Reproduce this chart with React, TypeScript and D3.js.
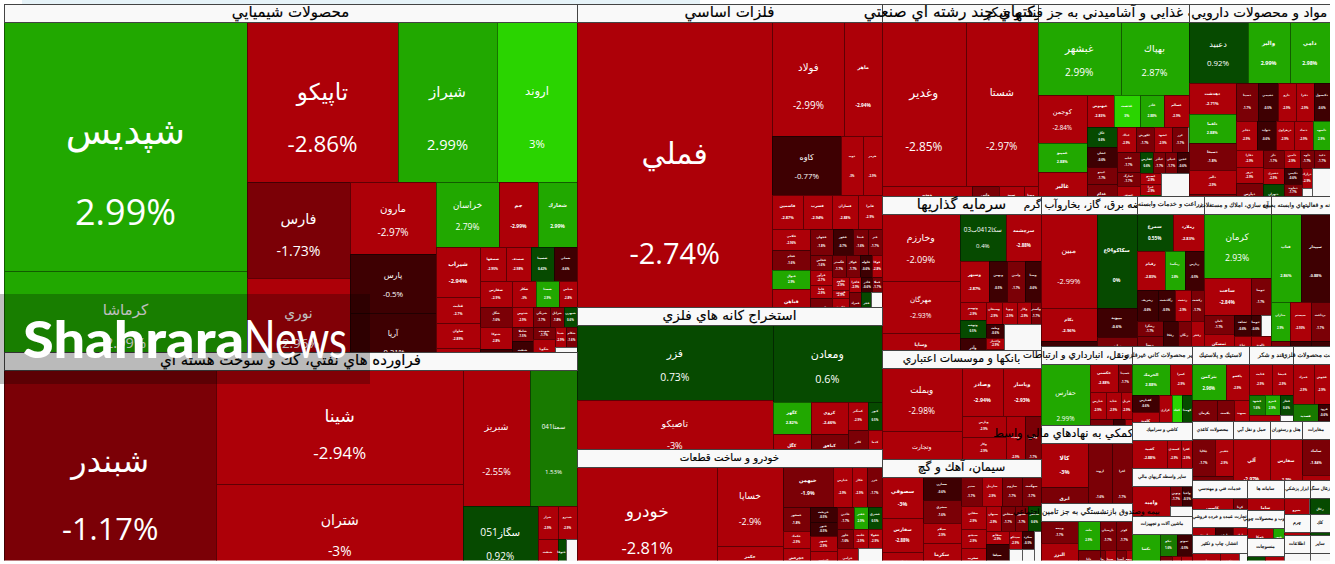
import React, { useMemo } from "react";
import * as d3 from "d3";

type N = { w: number; name?: string; change?: number; blank?: boolean; title?: string; dir?: "h" | "v"; kids?: N[]; value?: number };
const c = (w: number, name: string, change: number): N => ({ w, name, change });
const gap = (w: number): N => ({ w, blank: true });
const cols = (w: number, ...kids: N[]): N => ({ w, dir: "h", kids });
const rows = (w: number, ...kids: N[]): N => ({ w, dir: "v", kids });
const sector = (title: string, w: number, dir: "h" | "v", ...kids: N[]): N => ({ w, title, dir, kids });

const chemicals = sector("محصولات شيميايي", 348, "h",
  rows(243, c(249, "شپديس", 2.99), c(99, "كرماشا", 2.99)),
  rows(330,
    cols(160, c(151, "تاپيكو", -2.86), c(99, "شيراز", 2.99), c(80, "اروند", 3)),
    cols(188,
      rows(103, c(96, "فارس", -1.73), c(92, "نوري", -2.96)),
      rows(86, c(72, "مارون", -2.97), c(59, "پارس", -0.5), c(57, "آريا", -0.21)),
      rows(141,
        cols(65, c(63, "خراسان", 2.79), c(39, "جم", -2.99), c(39, "شخارك", 2.99)),
        cols(123,
          rows(44, c(50, "شيراب", -2.94), c(26, "قثابت", -2.7), c(25, "شاوان", -2.89), c(22, "شفن", -2.6)),
          rows(97,
            cols(34, c(25.5, "شصفها", -2.95), c(25, "شصدف", -2.98), c(23.5, "شسينا", 0.42), c(23, "شملي", -0.6)),
            cols(26, c(32, "شفارس", -2.9), c(24, "شكلر", -3), c(23, "شستا", 2.9), c(18, "شپاس", -2.8)),
            cols(63,
              rows(32, c(20, "شگل", -1.6), c(22, "شتوكا", -2.8), c(21, "شلعاب", -0.7)),
              rows(65,
                cols(20, c(21, "شدوص", -2.9), c(17, "شرنگي", -1.7), c(14, "شرانل", -1.8), c(13, "شبهرن", 0.6)),
                cols(43,
                  rows(21, c(14, "شاملا", -1.5), c(29, "شنفت", -0.4)),
                  rows(22, c(12, "شوينده", -1.7), c(31, "شگويا", -2.9)),
                  rows(22, cols(20, c(11, "شپنا", -2.9), c(11, "شكام", -1.6)), gap(23)))))))))));

const petroleum = sector("فراورده هاي نفتي، كك و سوخت هسته اي", 208, "h",
  c(212.5, "شبندر", -1.17),
  rows(246.5, c(114, "شينا", -2.94), c(94, "شتران", -3)),
  rows(114,
    cols(136, c(67, "شبريز", -2.55), c(47, "سمتا041", 1.53)),
    cols(72, c(74.5, "سگاز051", 0.92),
      rows(39.5,
        cols(33, c(20, "شراز", -2.9), c(19.5, "شپترو", -2.9)),
        cols(39, c(20, "شنفت", -2.9), c(8, "ختوقا", 0.6), gap(11.5))))));

const basicMetals = sector("فلزات اساسي", 303, "h",
  c(194.5, "فملي", -2.74),
  rows(109,
    cols(114, c(71.5, "فولاد", -2.99), c(37.5, "ماهر", -2.94)),
    cols(58.5, c(68, "كاوه", -0.77), c(22, "ذوب", -3), c(19, "هرمز", -2.9)),
    cols(34.5, c(30, "فاسمين", -2.87), c(29.5, "فسرب", -2.94), c(25.5, "فسازان", -2.88), c(24, "فايرا", -2.9)),
    cols(96,
      rows(37.5, c(21, "فلامي", -2.96), c(20, "فجام", -1.6), c(19, "فنوال", 2.9), c(36, "فباهن", -2.9)),
      rows(71.5,
        cols(26, c(22.5, "فجهان", -1.8), c(20, "فخوز", -0.7), c(15, "فپنتا", -1.6), c(14, "فنر", -1.7)),
        cols(70,
          rows(22, c(15, "فخاس", -1.6), c(15, "فرآور", -2.7), c(13, "فاما", -2.9), c(27, "فروس", -1.7)),
          rows(49.5,
            cols(22, c(13.5, "فگستر", -1.7), c(14, "فولاژ", -1.7), c(12, "فلوله", -0.6), c(10, "فوكا", -2.8)),
            cols(48,
              rows(17, c(13, "فالوم", -2.9), c(8, "فزرين", -2.9), c(27, "فكمند", -2.9)),
              rows(32.5,
                cols(15, c(12, "فافزا", -2.9), c(11, "فاذر", -0.6), c(9.5, "فملا", -1.7)),
                cols(33, c(12, "فمراد", -1.6), c(10, "فجر", 0.5), gap(10.5))))))))));

const metalOres = sector("استخراج كانه هاي فلزي", 142, "h",
  rows(195, c(75, "فزر", 0.73), c(67, "تاصيكو", -3)),
  rows(109, c(77, "ومعادن", 0.6),
    cols(65,
      rows(75, cols(32, c(38, "كگهر", 2.82), c(37, "كروي", -2.46)), cols(33, c(38, "كگل", -2.9), c(37, "كبافق", -1.6))),
      rows(34, cols(28, c(20, "كمنگنز", -2.9), c(14, "كنور", 0.5)), cols(37, c(20, "كاذر", -1.6), c(14, "كدما", -2.9))))));

const automotive = sector("خودرو و ساخت قطعات", 111, "h",
  c(140, "خودرو", -2.81),
  rows(65, c(79, "خساپا", -2.9), c(32, "حكمر", -2.9)),
  rows(99,
    cols(40, c(50, "خبهمن", -1.9), c(19, "خپارس", -2.9), c(15, "خكار", -2.9), c(15, "خزر", -1.7)),
    cols(71,
      rows(27, c(24, "خمحور", -1.8), c(17, "خكمك", -2.9), c(30, "خچرخش", -2.9)),
      rows(27, c(15, "خريخت", -0.5), c(14, "ختور", -0.5), c(15, "خمهر", -2.9), c(27, "خنصير", -2.9)),
      rows(45,
        cols(22, c(17, "خاذين", -1.7), c(14, "خفنر", 2.9), c(14, "خشرق", 0.5)),
        cols(19, c(16, "خاور", -1.6), c(15, "خلنت", -2.9), c(14, "خفولا", -2.9)),
        cols(30, c(21, "خزامي", -2.9), gap(24))))));

const industrial = sector("شركتهاي چند رشته اي صنعتي", 156, "v",
  cols(163.5, c(83.5, "وغدير", -2.85), c(72.5, "شستا", -2.97)),
  cols(28.5, c(89.5, "ومدير", -2.9), c(27.5, "واتي", -1.6), c(24.5, "سپيد", -2.9), c(14.5, "وصنا", -2.9)));

const food = sector("محصولات غذايي و آشاميدني به جز قند و شكر", 150.5, "v",
  cols(73, c(82.5, "غبشهر", 2.99), c(68, "بهپاك", 2.87)),
  cols(119,
    rows(48.5, c(48, "كوجمن", -2.84), c(29, "غمينو", 2.88), c(42, "غالبر", -2.9)),
    rows(102,
      cols(32, c(27, "غبهنوش", -2.83), c(26, "غدشت", 3), c(24.5, "غاذر", 2.88), c(24, "غسالم", -2.9)),
      cols(87,
        rows(30, c(20, "غگل", 0.6), c(20, "غشان", -0.6), c(17, "غپينو", -1.7), c(30, "غدام", -1.7)),
        rows(71.5,
          cols(25, c(19, "غپاك", -2.9), c(18, "غكورش", -1.7), c(18.5, "غشهد", -2.9), c(16.5, "غزر", -1.7)),
          cols(62,
            rows(23.5, c(20, "غناب", -1.7), c(14, "غمارگ", -1.7), c(28, "غنوش", -2.9)),
            rows(48,
              cols(21, c(13, "غفارس", 0.6), c(12, "غپآذر", -1.7), c(11.5, "غنيلي", -1.7), c(11.5, "غچين", -0.6)),
              cols(41, rows(21, c(11, "غصينو", -2.9), c(11, "غبرا", -2.9), c(19, "غويتا", 1.2)), gap(27)))))))));

const pharma = sector("مواد و محصولات دارويي", 141.5, "v",
  cols(61, c(59, "دعبيد", 0.92), c(42, "والبر", 2.99), c(40.5, "دامي", 2.98)),
  cols(131,
    rows(47.5, c(31, "دهدشت", -2.71), c(29, "دلقما", 2.88), c(26.5, "دسبحا", -1.8), c(24, "دالبر", -2.9), c(20.5, "دكوثر", -1.7)),
    rows(94,
      cols(37.5, c(22, "دسينا", -1.7), c(19.5, "دشيمي", -0.5), c(18, "دارو", -2.9), c(18, "دفرا", -2.9), c(16.5, "دكپسول", -0.6)),
      cols(29, c(20.5, "دجابر", -2.9), c(19, "دتوليد", -0.6), c(18.5, "دزهراوي", -2.9), c(19, "دتماد", -2.9), c(17, "داسوه", 2.9)),
      cols(64.5,
        rows(26.5, c(17.5, "دفارا", -2.9), c(16, "دروز", -2.9), c(31, "دپارس", -1.7)),
        rows(21, c(18.5, "دلر", -1.7), c(16, "دشيري", -2.9), c(30, "دتهران", 0.6)),
        rows(46,
          cols(18.5, c(16, "دامين", -2.9), c(14, "داوه", -1.7), c(16, "دعيد", -1.7)),
          cols(46, rows(18, c(16, "دكيمي", -0.6), c(12, "دماوند", -1.7), c(18, "دقاضي", -2.9)), rows(10, c(20, "درازك", -2.9), gap(26)), gap(18)))))));

const investment = sector("سرمايه گذاريها", 154, "h",
  rows(77.5, c(67, "وخارزم", -2.09), c(52, "مهرگان", -2.93), c(35, "وساپا", -2.9)),
  rows(81.5,
    cols(47, c(47, "سكا0412ب03", 0.4), c(35, "سرچشمه", -2.88)),
    cols(41, c(30, "وسپهر", -2.87), c(18, "وبهمن", -0.5), c(18, "وامين", -1.7), c(16, "وسنا", -0.6)),
    cols(66,
      rows(27, c(18, "وتوسم", -2.9), c(17.5, "وتوشه", 0.5), c(30.5, "وآذر", -0.5)),
      rows(55,
        cols(22, c(15.5, "وسبحان", -2.9), c(15.5, "وپويا", -2.9), c(14, "وكار", -2.9), c(10, "وگستر", -1.7)),
        cols(44, rows(18, c(14, "وملت", -0.6), c(11, "واعتبار", -2.9), c(19, "ورنا", -2.9)), gap(37))))));

const banks = sector("بانكها و موسسات اعتباري", 109, "h",
  rows(79.5, c(62.5, "وبملت", -2.98), c(46.5, "وتجارت", -2.97)),
  rows(79.5,
    cols(47.5, c(41.5, "وصادر", -2.94), c(38, "وپاسار", -2.93)),
    cols(61.5, rows(44.5, c(21.5, "وپارس", -2.9), c(21.5, "وكار", -2.9), c(18.5, "ودي", -2.9)), c(19, "وسينا", -2.9), c(16, "وخاور", -1.7))));

const cement = sector("سيمان، آهك و گچ", 101, "h",
  rows(41, c(41, "سصوفي", -3), c(34, "سفارس", -2.88), c(26, "سخزر", -2.9)),
  rows(37.5, c(23, "سمازن", -0.6), c(22.5, "سشرق", -1.6), c(20, "سيلام", -2.9), c(35.5, "سكرما", -2.9)),
  rows(80.5,
    cols(29, c(21.5, "سنير", -1.7), c(20, "ساربيل", -2.9), c(20, "ساروم", -1.7), c(19, "سهگمت", -1.7)),
    cols(72,
      rows(25, c(22.5, "سقاين", -2.9), c(19.5, "سبجنو", -2.9), c(30, "سغرب", -2.9)),
      rows(55.5,
        cols(25, c(15, "سبهان", -2.9), c(14.5, "سخاش", -1.7), c(12.5, "سدور", -1.7), c(13, "سباقر", 0.6)),
        cols(47, rows(23, c(13, "سفانو", -2.9), c(34, "سپاها", -0.5)), rows(13, c(18, "سيدكو", -2.9), gap(29)), rows(12, c(18, "سكرد", -0.5), gap(29)), gap(7))))));

const utilities = sector("عرضه برق، گاز، بخاروآب گرم", 95.6, "h",
  rows(55.5, c(94, "مبين", -2.99), c(33, "بكام", -2.96), c(23, "بجهرم", -0.5)),
  rows(40, c(94, "سكاكو04ع", 0), c(29, "بپيوند", -0.6), c(27, "بترانس", -1.7)));

const farming = sector("زراعت و خدمات وابسته", 67, "v",
  cols(37, c(36, "سمرغ", 0.55), c(31, "زملارد", -2.83)),
  cols(39, c(28, "زقيام", -2.83), c(20.5, "زمگسا", 2.8), c(18.5, "زپارس", -0.5)),
  cols(31, c(21, "زشريف", -0.6), c(17, "زگلدشت", -0.5), c(16, "زدشت", -2.9), c(13, "زكشت", -1.7)),
  cols(43, rows(26.5, c(15, "زشگزا", -1.7), c(28, "زبينا", -1.7)), c(14.5, "زفكا", -0.6), c(13, "زنگان", -1.6), c(13, "زفجر", -2.9)));

const housing = sector("انبوه سازي، املاك و مستغلات", 67, "v",
  c(64, "كرمان", 2.93),
  cols(37, c(47, "ساخت", -2.84), c(20, "ثنوسا", -1.7)),
  cols(49,
    rows(30.5, c(19, "ثامان", -1.7), c(30, "ثمسكن", -2.9)),
    rows(16.5, c(21, "ثشاهد", -0.6), c(28, "ثباغ", -2.9)),
    rows(20, cols(21, c(10, "ثتوسا", -0.6), gap(10)), c(28, "ثالوند", -2.9))));

const computing = sector("رايانه و فعاليتهاي وابسته به آن", 59.4, "v",
  cols(88, c(30.5, "فناپ", 2.86), c(29, "سپيدار", -0.88)),
  cols(62,
    rows(19.5, c(39, "مداران", 2.9), c(23, "رتاپ", -1.7)),
    rows(20.5, c(39, "سيستم", -2.93), c(23, "ماهان", -0.6)),
    rows(19.5, c(39, "پرداخت", -1.7), c(23, "اپرداز", -0.6))));

const transport = sector("حمل ونقل، انبارداري و ارتباطات", 79, "h",
  c(49, "حفارس", 2.99),
  rows(42,
    cols(28, c(28, "حكشتي", -2.88), c(14, "حسينا", -1.7)),
    cols(27, c(15.5, "حپارس", -2.9), c(15.5, "حتايد", -2.9), c(11, "حريل", -2.9)),
    cols(24, c(23, "حآسا", -1.7), c(12, "حتوكا", -0.6), c(7, "حملو", -2.9))));

const nonMetals = sector("ساير محصولات كاني غيرفلزي", 75.6, "v",
  cols(31, c(38, "الحرمك", 2.88), c(22, "كسرا", -2.9)),
  cols(44.6, rows(27, c(16.6, "كفپارس", -0.6), c(28, "كلوند", -2.9)), c(12.5, "كرازي", -2.9), c(10.5, "كچاد", 3), c(10, "كهمدا", 0.6)));

const rubber = sector("لاستيك و پلاستيك", 57, "v",
  cols(36.6, c(33.5, "بترکمن", 2.96), c(23.5, "پاكشو", -2.9)),
  cols(39, c(24.5, "پكرمان", -1.7), c(17.5, "پلاست", -1.7), c(15, "پسهند", -2.9)));
const sugar = sector("قند و شكر", 44, "v",
  cols(30.6, c(22.5, "قثابت", -2.9), c(21.5, "قنيشا", -2.9)),
  cols(20.4, c(15.5, "قشهد", 1.6), c(15.5, "قمرو", 2.9), c(13, "قچار", 0.6)),
  cols(24, c(31, "قلرست", -2.9), gap(13)));
const metalGoods = sector("ساخت محصولات فلزي", 37, "v",
  cols(40, c(20.5, "فمراد", -2.9), c(16.5, "فجوش", -2.9)),
  cols(35, c(25, "فسديد", 1.6), rows(12, c(17, "فرود", -0.6), gap(18))));

const tiles = sector("كاشي و سراميك", 46.7, "v",
  cols(28, c(35, "كعبيد", -2.88), c(13.5, "كسعدي", -2.9), c(11, "كفرا", -2.9)),
  cols(18.7, c(20, "كپشير", -0.6), c(39.5, "كرماشا", -1.7)));
const brokers = sector("ساير واسطه گريهاي مالي", 47.3, "h",
  c(37.5, "واميد", -2.23),
  rows(21.5, cols(20, c(11.5, "ونوين", -1.7), c(10, "واحيا", -0.5)), gap(27.3)));
const machinery = sector("ماشين آلات و تجهيزات", 44.4, "h",
  c(27.5, "تكشا", 2.82),
  rows(31.5, cols(22, c(16.5, "تپكو", 1.6), c(15, "تموتو", -0.5)), cols(22.4, c(12, "تايرا", -1.7), c(9, "تفيرو", -2.9), c(10.5, "شتوكا", -2.9))));

const paperGoods = sector("محصولات كاغذي", 41, "v",
  cols(37, c(23, "چكاپا", -1.7), c(18, "چفيبر", -2.9)), cols(22, c(41, "چدن", -1.7)));
const shipping = sector("حمل و نقل آبي", 37, "h", c(37, "آلي", -2.97));
const hotels = sector("هتل و رستوران", 32, "h", c(32, "سفارس", -2.9));
const telecom = sector("مخابرات", 28, "v", c(36, "ساماد", -1.84), c(23, "اخابر", -2.9));

const engineering = sector("خدمات فني و مهندسي", 28.6, "h", c(41, "كاسپي", -2.9), c(14, "كزدا", -1.7));
const retail = sector("تجارت عمده و خرده فروشي", 26.4, "h", c(23, "اسدي", -2.9), c(18, "ارفع", -0.5), c(14, "اماد", -2.9));
const media = sector("انتشار، چاپ و تكثير", 25, "h", c(28, "چاپ", -2.9), c(19, "چكيد", -2.9), gap(8));
const systems = sector("سامانه ها", 30, "h", c(37, "ساما", -2.9));
const wood = sector("چوب و محصولات چوبي", 28, "h", c(26, "چوكا", -2.9), c(11, "چبور", 2.9));
const fabric = sector("منسوجات", 22, "h", c(18, "نطرين", 0.5), c(19, "نبهار", -2.9));
const tools = sector("ابزار پزشكي", 34, "h", c(25, "بنيرو", -2.9), gap(1));
const leather = sector("چرم", 21, "h", c(26, "كچرم", -2.9));
const office = sector("اطلاعات", 25, "h", gap(26));
const mines = sector("زغال سنگ", 34, "h", c(20, "زغال", 0.6));
const coke = sector("كك", 21, "h", c(20, "كك", 0.5));
const misc = sector("ساير", 25, "h", gap(20));

const auxFinance = sector("فعاليتهاي كمكي به نهادهاي مالي واسط", 78, "h",
  rows(47, c(43.6, "كالا", -3), c(34.4, "ابرق", -1.7)),
  c(24, "اروند", -1.6), c(20, "افرا", -1.7));
const insurance = sector("بيمه وصندوق بازنشستگي به جز تامين اجتماعي", 57, "h",
  rows(37, c(22, "وبيمه", -1.7), c(35, "البرز", -2.9)),
  rows(21.5, c(28.5, "ملت", 2.9), c(28.5, "دانا", -1.7)),
  rows(32.5, cols(28.5, c(16.5, "پارسيان", -1.7), c(16, "كوثر", -1.7)), cols(28.5, c(5, "ما", -1.7), c(11, "سينا", -2.9), c(10, "آسيا", -1.7), c(6.5, "بيمه", -2.9))));

const titleSizes: Record<string, number> = {
  "محصولات شيميايي": 15, "فراورده هاي نفتي، كك و سوخت هسته اي": 15, "فلزات اساسي": 15, "استخراج كانه هاي فلزي": 13.6,
  "خودرو و ساخت قطعات": 10.2, "شركتهاي چند رشته اي صنعتي": 15.5, "محصولات غذايي و آشاميدني به جز قند و شكر": 13.5,
  "مواد و محصولات دارويي": 13.5, "سرمايه گذاريها": 14.5, "بانكها و موسسات اعتباري": 11, "سيمان، آهك و گچ": 12,
  "عرضه برق، گاز، بخاروآب گرم": 10.5, "زراعت و خدمات وابسته": 6.5, "انبوه سازي، املاك و مستغلات": 6, "رايانه و فعاليتهاي وابسته به آن": 6,
  "حمل ونقل، انبارداري و ارتباطات": 9.5, "ساير محصولات كاني غيرفلزي": 6, "لاستيك و پلاستيك": 6, "قند و شكر": 6, "ساخت محصولات فلزي": 6,
  "فعاليتهاي كمكي به نهادهاي مالي واسط": 11.5, "بيمه وصندوق بازنشستگي به جز تامين اجتماعي": 7.5,
};

const treeRoot = cols(1326,
  rows(573, chemicals, petroleum),
  rows(305, basicMetals, metalOres, automotive),
  rows(448,
    cols(192, industrial, food, pharma),
    cols(364,
      rows(159, investment, banks, cement),
      rows(289,
        cols(150, utilities, farming, housing, computing),
        cols(214,
          rows(91, transport, auxFinance, insurance),
          rows(60, nonMetals, tiles, brokers, machinery),
          rows(138,
            cols(75, rubber, sugar, metalGoods),
            cols(59, paperGoods, shipping, hotels, telecom),
            cols(80,
              rows(55, engineering, retail, media),
              rows(37, systems, wood, fabric),
              rows(26, tools, leather, office),
              rows(20, mines, coke, misc))))))));

const colorScale = d3.scaleThreshold<number, string>()
  .domain([-2, -1, 0, 1, 2, 3])
  .range(["#ad0008", "#7b0006", "#3e0002", "#064a00", "#187a00", "#21a800", "#2ad400"]);

const WIDTH = 1335, HEIGHT = 564, LEFT = 4, TOP = 4, AREA_W = 1326, AREA_H = 556, HEADER = 18;
const FONT = "'Open Sans','DejaVu Sans',sans-serif";

function assign(n: N, v: number) {
  if (!n.kids) { n.value = v; return; }
  const total = d3.sum(n.kids, (k) => k.w);
  n.kids.forEach((k) => assign(k, (v * k.w) / total));
}

const labelSize = (m: number) => Math.max(3, m / (6.55 + 1 * Math.min(1, Math.max(0, (100 - m) / 60))));

export default function App() {
  const sectors = useMemo(() => {
    assign(treeRoot, 1);
    const root = d3.hierarchy<N>(treeRoot, (d) => d.kids).sum((d) => (d.kids ? 0 : d.value || 0));
    d3.treemap<N>().size([AREA_W, AREA_H]).tile((node, x0, y0, x1, y1) => {
      (node.data.dir === "h" ? d3.treemapDice : d3.treemapSlice)(node, x0, y0, x1, y1);
    })(root);
    return root.descendants().filter((n) => n.data.title);
  }, []);
  const X = (v: number) => Math.round(v + LEFT);
  const Y = (v: number) => Math.round(v + TOP);
  return (
    <svg width={WIDTH} height={HEIGHT} style={{ position: "absolute", left: 0, top: 0, background: "#fff" }}>
      <defs>
        <clipPath id="area"><rect x={LEFT} y={TOP} width={AREA_W} height={AREA_H + 0.5} /></clipPath>
      </defs>
      <rect x={22} y={0} width={678} height={4} fill="#e6f3f8" />
      <g clipPath="url(#area)" fontFamily={FONT}>
        {sectors.map((s, i) => (
          <g key={i}>
            <rect x={X(s.x0)} y={Y(s.y0)} width={X(s.x1) - X(s.x0)} height={Y(s.y1) - Y(s.y0) + HEADER} fill="#f8f8f8" />
            {s.leaves().map((l: any, j: number) => {
              const w = l.x1 - l.x0, h = l.y1 - l.y0;
              const x = X(l.x0), y = Y(l.y0 + HEADER), wr = X(l.x1) - x, hr = Y(l.y1 + HEADER) - y;
              if (l.data.blank) return <rect key={j} x={x} y={y} width={wr} height={hr} fill="#f8f8f8" stroke="#555" strokeWidth={1} shapeRendering="crispEdges" />;
              const f = labelSize(Math.min(w, h));
              const ny = l.y0 + HEADER + TOP + h * Math.min(0.43, 0.295 + 0.0009 * h);
              const py = ny + h * 0.33;
              const cx = l.x0 + LEFT + w / 2;
              const weight = f < 6 ? 700 : 400;
              return (
                <g key={j}>
                  <rect x={x} y={y} width={wr} height={hr} fill={colorScale(l.data.change)} stroke="#000" strokeOpacity={0.45} strokeWidth={1} shapeRendering="crispEdges" />
                  <text x={cx} y={ny} fontSize={f} fontWeight={weight} fill="#fff" textAnchor="middle" dominantBaseline="central">{l.data.name}</text>
                  <text x={cx} y={py} fontSize={f * 0.97} fontWeight={weight} fill="#fff" textAnchor="middle" dominantBaseline="central" direction="ltr">{`${l.data.change}%`}</text>
                </g>
              );
            })}
          </g>
        ))}
        {sectors.map((s, i) => (
          <g key={i}>
            <rect x={X(s.x0)} y={Y(s.y0)} width={X(s.x1) - X(s.x0)} height={HEADER} fill="#f9f9f9" stroke="#444" strokeWidth={1} shapeRendering="crispEdges" />
            <text x={(s.x0 + s.x1) / 2 + LEFT} y={s.y0 + TOP + HEADER / 2 - 1} fontSize={titleSizes[s.data.title as string] || 4.5} fill="#000" stroke="#000" strokeWidth={0.15}
              textAnchor="middle" dominantBaseline="central" fontFamily="'DejaVu Sans',sans-serif">{s.data.title}</text>
          </g>
        ))}
      </g>
      <rect x={0} y={294} width={370} height={90} fill="#000" fillOpacity={0.25} />
      <text x={23} y={358} fontFamily="Lato,'Open Sans',sans-serif" fontSize={52} fontWeight={900} fill="#fff" textLength={221} lengthAdjust="spacingAndGlyphs">Shahrara</text>
      <text x={244} y={358} fontFamily="Lato,'Open Sans',sans-serif" fontSize={52} fontWeight={400} fill="#fff" textLength={103} lengthAdjust="spacingAndGlyphs">News</text>
    </svg>
  );
}
